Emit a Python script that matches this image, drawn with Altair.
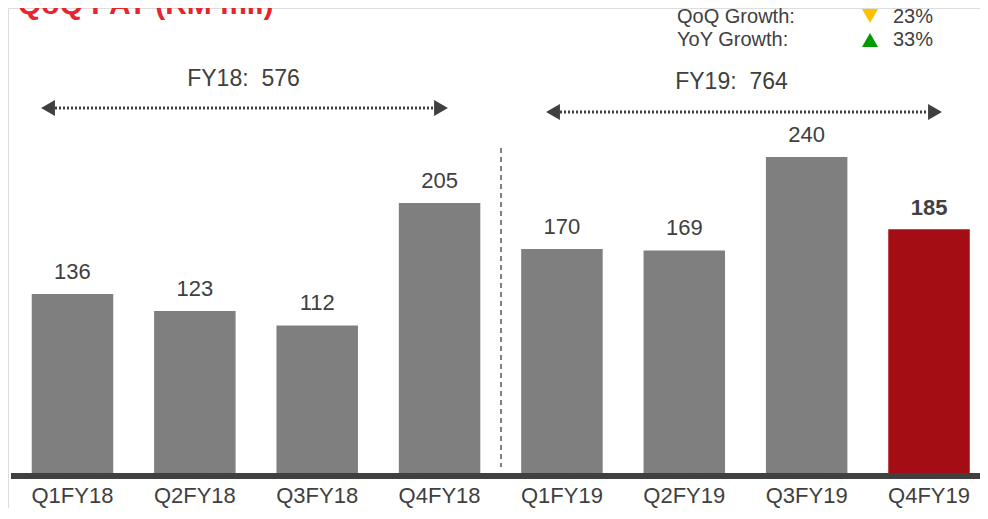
import altair as alt
import pandas as pd

quarters = ["Q1FY18", "Q2FY18", "Q3FY18", "Q4FY18", "Q1FY19", "Q2FY19", "Q3FY19", "Q4FY19"]
pat = [136, 123, 112, 205, 170, 169, 240, 185]
bar_group = ["base", "base", "base", "base", "base", "base", "base", "latest"]

fy_labels = ["FY18:\u00a0 576", "FY19:\u00a0 764"]
growth_names = ["QoQ Growth:", "YoY Growth:"]
growth_values = ["23%", "33%"]
title_text = "QoQ PAT (RM mil)"

FONT = "Liberation Sans"
TXT = "#404040"
H = 500
W = 972

df = pd.DataFrame({"quarter": quarters, "pat": pat, "grp": bar_group})

xscale = alt.Scale(domain=quarters, range=[3.3, 982.2], paddingInner=0.334, paddingOuter=0.167)
yscale = alt.Scale(domain=[-(H - 465) / 1.317, 465 / 1.317], nice=False, zero=False)

base = alt.Chart(df)

bars = base.mark_bar().encode(
    x=alt.X("quarter:N", scale=xscale, axis=None, sort=quarters),
    y=alt.Y("pat:Q", scale=yscale, axis=None),
    y2=alt.datum(0),
    color=alt.Color("grp:N", scale=alt.Scale(domain=["base", "latest"], range=["#7F7F7F", "#A50D14"]), legend=None),
)

labels_norm = base.transform_filter(alt.datum.grp == "base").mark_text(
    font=FONT, fontSize=22, color=TXT, baseline="alphabetic", dy=-15
).encode(
    x=alt.X("quarter:N", scale=xscale, axis=None, sort=quarters),
    y=alt.Y("pat:Q", scale=yscale, axis=None),
    text="pat:Q",
)
labels_bold = base.transform_filter(alt.datum.grp == "latest").mark_text(
    font=FONT, fontSize=22, fontWeight="bold", color=TXT, baseline="alphabetic", dy=-14
).encode(
    x=alt.X("quarter:N", scale=xscale, axis=None, sort=quarters),
    y=alt.Y("pat:Q", scale=yscale, axis=None),
    text="pat:Q",
)

xlabels = base.mark_text(font=FONT, fontSize=22, color=TXT, baseline="alphabetic").encode(
    x=alt.X("quarter:N", scale=xscale, axis=None, sort=quarters),
    y=alt.value(H - 5),
    text="quarter:N",
)

one = alt.Chart(pd.DataFrame({"k": [0]}))

axis_line = one.mark_rule(color="#404040", strokeWidth=6).encode(
    x=alt.value(3), x2=alt.value(W), y=alt.value(468)
)
separator = one.mark_rule(color="#808080", strokeWidth=2, strokeDash=[5, 4]).encode(
    x=alt.value(493), y=alt.value(140), y2=alt.value(459)
)

title = one.mark_text(text=title_text, font=FONT, fontSize=30, fontWeight="bold",
                      color="#E8242C", align="left", baseline="alphabetic").encode(
    x=alt.value(10), y=alt.value(6)
)

fy18_text = one.mark_text(text=fy_labels[0], font=FONT, fontSize=23, color=TXT, baseline="alphabetic").encode(
    x=alt.value(235.5), y=alt.value(78))
fy19_text = one.mark_text(text=fy_labels[1], font=FONT, fontSize=23, color=TXT, baseline="alphabetic").encode(
    x=alt.value(723.5), y=alt.value(81))

def arrow(x_left, x_right, y):
    line = one.mark_rule(color="#404040", strokeWidth=3, strokeDash=[2, 2]).encode(
        x=alt.value(x_left + 7), x2=alt.value(x_right - 7), y=alt.value(y))
    lh = one.mark_point(shape="triangle-left", filled=True, size=256, color="#404040", opacity=1).encode(
        x=alt.value(x_left), y=alt.value(y))
    rh = one.mark_point(shape="triangle-right", filled=True, size=256, color="#404040", opacity=1).encode(
        x=alt.value(x_right), y=alt.value(y))
    return [line, lh, rh]

arrows = arrow(40, 433, 100) + arrow(545, 927, 104)

g1 = one.mark_text(text=growth_names[0], font=FONT, fontSize=20, color=TXT, align="left", baseline="alphabetic").encode(
    x=alt.value(669), y=alt.value(15))
g2 = one.mark_text(text=growth_names[1], font=FONT, fontSize=20, color=TXT, align="left", baseline="alphabetic").encode(
    x=alt.value(669), y=alt.value(38))
v1 = one.mark_text(text=growth_values[0], font=FONT, fontSize=20, color=TXT, align="left", baseline="alphabetic").encode(
    x=alt.value(885), y=alt.value(15))
v2 = one.mark_text(text=growth_values[1], font=FONT, fontSize=20, color=TXT, align="left", baseline="alphabetic").encode(
    x=alt.value(885), y=alt.value(38))
t1 = one.mark_point(shape="triangle-down", filled=True, size=256, color="#FFC000", opacity=1).encode(
    x=alt.value(862), y=alt.value(8))
t2 = one.mark_point(shape="triangle-up", filled=True, size=256, color="#009900", opacity=1).encode(
    x=alt.value(862), y=alt.value(32))

chart = alt.layer(
    bars, labels_norm, labels_bold, xlabels, axis_line, separator, title,
    fy18_text, fy19_text, *arrows, g1, g2, v1, v2, t1, t2
).properties(
    width=W, height=H,
    autosize=alt.AutoSizeParams(type="none"),
    padding=0,
).configure_view(stroke=None).configure(background="white")

chart.save("out.html", embed_options={"renderer": "svg", "actions": False})
